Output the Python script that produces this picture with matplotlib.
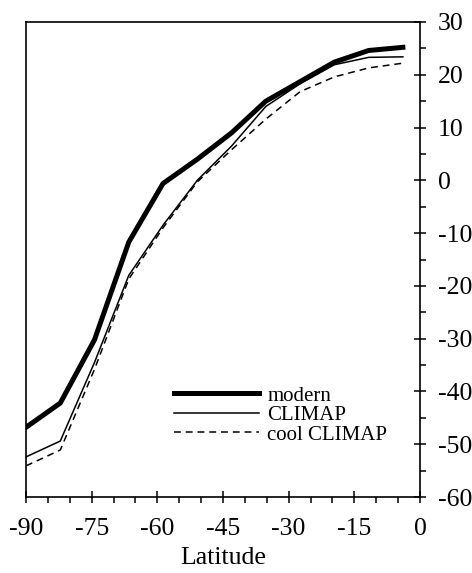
import matplotlib
matplotlib.use("Agg")
from matplotlib import pyplot as plt
from matplotlib.ticker import MultipleLocator

plt.rcParams['font.family'] = ['Liberation Serif', 'DejaVu Serif']
plt.rcParams['axes.unicode_minus'] = False

# model latitude rows (8 degree grid box centres)
latitude = [-90.0, -82.17, -74.35, -66.52, -58.7, -50.87,
            -43.04, -35.22, -27.39, -19.57, -11.74, -3.91]

modern = [-46.8, -42.2, -30.2, -11.7, -0.6, 4.0,
          9.0, 15.0, 18.7, 22.4, 24.6, 25.2]
climap = [-52.4, -49.4, -34.5, -18.0, -8.5, 0.0,
          6.5, 14.0, 18.3, 21.9, 23.3, 23.4]
cool_climap = [-54.1, -51.1, -35.8, -18.7, -9.0, -0.3,
               5.8, 11.6, 16.8, 19.6, 21.3, 22.2]

x_ticks = [-90, -75, -60, -45, -30, -15, 0]
y_ticks = [-60, -50, -40, -30, -20, -10, 0, 10, 20, 30]

fig = plt.figure(figsize=(4.72, 5.73), dpi=100)
ax = fig.add_axes([26 / 472, 76 / 573, 394 / 472, 475 / 573])

ax.plot(latitude, modern, color='black', lw=3.6, solid_joinstyle='round',
        label='modern')
ax.plot(latitude, climap, color='black', lw=1.1, label='CLIMAP')
ax.plot(latitude, cool_climap, color='black', lw=1.1, dashes=(4.5, 3.2),
        label='cool CLIMAP')

ax.set_xlim(-90, 0)
ax.set_ylim(-60, 30)
ax.set_xticks(x_ticks)
ax.set_xticklabels([str(t) for t in x_ticks])
ax.set_yticks(y_ticks)
ax.set_yticklabels([str(t) for t in y_ticks])
ax.xaxis.set_minor_locator(MultipleLocator(5))
ax.yaxis.set_minor_locator(MultipleLocator(5))

ax.yaxis.tick_right()
ax.tick_params(which='major', direction='inout', length=8, width=1.1,
               labelsize=18.5, pad=11)
ax.tick_params(which='minor', direction='out', length=4, width=1.1)
ax.tick_params(axis='y', which='major', pad=9)
for s in ax.spines.values():
    s.set_linewidth(1.2)

ax.set_xlabel('Latitude', fontsize=18.5, labelpad=5)

leg = ax.legend(loc='upper left', bbox_to_anchor=(174 / 472, 1 - 386 / 573),
                bbox_transform=fig.transFigure, frameon=False, fontsize=15,
                handlelength=4.1, handletextpad=0.38, labelspacing=0.0,
                borderpad=0, borderaxespad=0)

fig.savefig('out.png', dpi=100)
